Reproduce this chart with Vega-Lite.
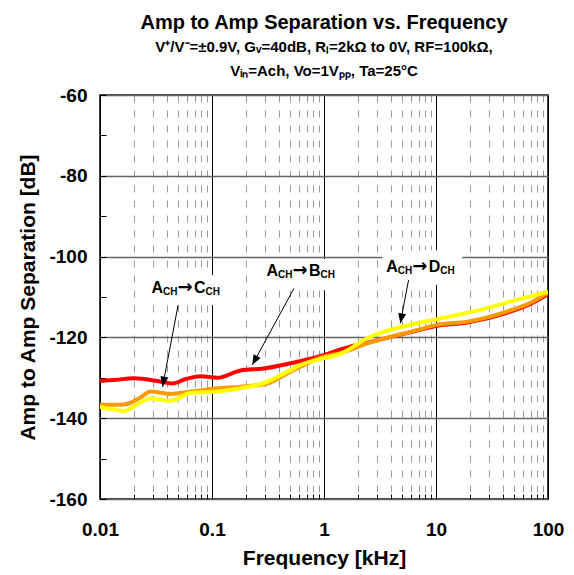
{
  "$schema": "https://vega.github.io/schema/vega-lite/v6.json",
  "width": 448,
  "height": 404,
  "autosize": {"type": "none"},
  "padding": {"left": 100, "top": 95, "right": 26, "bottom": 76},
  "background": "white",
  "config": {
    "view": {"stroke": "#000", "strokeWidth": 1.5},
    "font": "Liberation Sans"
  },
  "title": {
    "text": "Amp to Amp Separation vs. Frequency",
    "subtitle": ["V⁺/V⁻=±0.9V, Gᵥ=40dB, Rₗ=2kΩ to 0V, RF=100kΩ,", "Vᵢₙ=Ach, Vo=1Vₚₚ, Ta=25°C"],
    "font": "Liberation Sans",
    "fontSize": 20,
    "fontWeight": "bold",
    "color": "#000",
    "subtitleFont": "Liberation Sans",
    "subtitleFontSize": 15,
    "subtitleFontWeight": "bold",
    "subtitleColor": "#000",
    "subtitleLineHeight": 24,
    "subtitlePadding": 7,
    "anchor": "middle",
    "offset": 7
  },
  "datasets": {
    "curves": [
      {"s": "AB", "f": 0.01, "v": -130.8},
      {"s": "AB", "f": 0.0139, "v": -130.5},
      {"s": "AB", "f": 0.0201, "v": -130.1},
      {"s": "AB", "f": 0.0327, "v": -130.8},
      {"s": "AB", "f": 0.0444, "v": -131.4},
      {"s": "AB", "f": 0.0584, "v": -130.3},
      {"s": "AB", "f": 0.0794, "v": -129.6},
      {"s": "AB", "f": 0.112, "v": -130.0},
      {"s": "AB", "f": 0.18, "v": -128.2},
      {"s": "AB", "f": 0.289, "v": -127.7},
      {"s": "AB", "f": 0.503, "v": -126.4},
      {"s": "AB", "f": 0.99, "v": -124.4},
      {"s": "AB", "f": 1.4, "v": -123.0},
      {"s": "AB", "f": 1.72, "v": -122.3},
      {"s": "AB", "f": 2.45, "v": -121.3},
      {"s": "AB", "f": 6.8, "v": -118.3},
      {"s": "AB", "f": 10.2, "v": -117.1},
      {"s": "AB", "f": 19.0, "v": -116.3},
      {"s": "AB", "f": 43.0, "v": -113.9},
      {"s": "AB", "f": 69.0, "v": -111.8},
      {"s": "AB", "f": 100, "v": -109.3},
      {"s": "AC", "f": 0.01, "v": -136.7},
      {"s": "AC", "f": 0.0164, "v": -136.6},
      {"s": "AC", "f": 0.022, "v": -135.2},
      {"s": "AC", "f": 0.0285, "v": -133.4},
      {"s": "AC", "f": 0.0429, "v": -134.0},
      {"s": "AC", "f": 0.0647, "v": -133.4},
      {"s": "AC", "f": 0.112, "v": -132.6},
      {"s": "AC", "f": 0.18, "v": -132.2},
      {"s": "AC", "f": 0.312, "v": -131.4},
      {"s": "AC", "f": 0.503, "v": -128.5},
      {"s": "AC", "f": 0.99, "v": -124.8},
      {"s": "AC", "f": 1.4, "v": -123.9},
      {"s": "AC", "f": 2.43, "v": -121.5},
      {"s": "AC", "f": 6.76, "v": -118.2},
      {"s": "AC", "f": 10.2, "v": -116.9},
      {"s": "AC", "f": 19.0, "v": -116.1},
      {"s": "AC", "f": 42.9, "v": -113.6},
      {"s": "AC", "f": 69.2, "v": -111.5},
      {"s": "AC", "f": 100, "v": -108.9},
      {"s": "AD", "f": 0.01, "v": -137.2},
      {"s": "AD", "f": 0.0125, "v": -137.7},
      {"s": "AD", "f": 0.0164, "v": -138.2},
      {"s": "AD", "f": 0.0218, "v": -136.5},
      {"s": "AD", "f": 0.0285, "v": -135.1},
      {"s": "AD", "f": 0.0429, "v": -135.7},
      {"s": "AD", "f": 0.0647, "v": -133.7},
      {"s": "AD", "f": 0.112, "v": -133.4},
      {"s": "AD", "f": 0.18, "v": -132.6},
      {"s": "AD", "f": 0.312, "v": -131.0},
      {"s": "AD", "f": 0.503, "v": -128.1},
      {"s": "AD", "f": 0.617, "v": -126.8},
      {"s": "AD", "f": 0.99, "v": -125.2},
      {"s": "AD", "f": 1.4, "v": -124.1},
      {"s": "AD", "f": 2.43, "v": -120.2},
      {"s": "AD", "f": 6.76, "v": -116.5},
      {"s": "AD", "f": 10.2, "v": -115.5},
      {"s": "AD", "f": 24.8, "v": -113.2},
      {"s": "AD", "f": 52.6, "v": -110.7},
      {"s": "AD", "f": 100, "v": -108.7}
    ],
    "labels": [
      {"dst": "C", "f": 0.0289, "v": -109.1, "bx1": 0.0262, "bx2": 0.13, "by1": -104.6, "by2": -112.0},
      {"dst": "B", "f": 0.307, "v": -104.8, "bx1": 0.283, "bx2": 1.46, "by1": -100.6, "by2": -108.3},
      {"dst": "D", "f": 3.6, "v": -103.7, "bx1": 3.32, "bx2": 17.1, "by1": -98.4, "by2": -107.0}
    ],
    "arrows": [
      {"dst": "C", "x1": 0.0498, "y1": -112.0, "x2": 0.0362, "y2": -132.2},
      {"dst": "B", "x1": 0.538, "y1": -107.9, "x2": 0.229, "y2": -126.8},
      {"dst": "D", "x1": 5.69, "y1": -105.8, "x2": 4.8, "y2": -116.5}
    ]
  },
  "layer": [
    {
      "data": {"name": "curves"},
      "mark": {"type": "line", "strokeWidth": 4, "interpolate": "monotone", "clip": true},
      "encoding": {
        "x": {
          "field": "f", "type": "quantitative",
          "scale": {"type": "log", "domain": [0.01, 100], "nice": false},
          "axis": {
            "title": "Frequency [kHz]",
            "values": [0.01, 0.02, 0.03, 0.04, 0.05, 0.06, 0.07, 0.08, 0.09, 0.1, 0.2, 0.3, 0.4, 0.5, 0.6, 0.7, 0.8, 0.9, 1, 2, 3, 4, 5, 6, 7, 8, 9, 10, 20, 30, 40, 50, 60, 70, 80, 90, 100],
            "format": "~g",
            "labelExpr": "(datum.value == 0.01 || datum.value == 0.1 || datum.value == 1 || datum.value == 10 || datum.value == 100) ? datum.label : ''",
            "labelFont": "Liberation Sans",
            "labelFontSize": 19,
            "labelFontWeight": "bold",
            "labelColor": "#000",
            "labelOverlap": false,
            "labelFlush": false,
            "labelBound": false,
            "labelPadding": 26,
            "titleFont": "Liberation Sans",
            "titleFontSize": 21,
            "titleFontWeight": "bold",
            "titleColor": "#000",
            "titlePadding": 8,
            "domain": false,
            "ticks": true,
            "tickSize": -5,
            "tickColor": "#000",
            "tickWidth": 1,
            "grid": true,
            "gridColor": {"condition": {"test": "datum.value == 0.01 || datum.value == 0.1 || datum.value == 1 || datum.value == 10 || datum.value == 100", "value": "#000"}, "value": "#9a9a9a"},
            "gridDash": {"condition": {"test": "datum.value == 0.01 || datum.value == 0.1 || datum.value == 1 || datum.value == 10 || datum.value == 100", "value": []}, "value": [7, 8]},
            "gridWidth": 1
          }
        },
        "y": {
          "field": "v", "type": "quantitative",
          "scale": {"domain": [-160, -60], "nice": false},
          "axis": {
            "title": "Amp to Amp Separation [dB]",
            "values": [-60, -70, -80, -90, -100, -110, -120, -130, -140, -150, -160],
            "labelExpr": "datum.value % 20 == 0 ? '' + datum.value : ''",
            "labelFont": "Liberation Sans",
            "labelFontSize": 19,
            "labelFontWeight": "bold",
            "labelColor": "#000",
            "labelOverlap": false,
            "labelPadding": 19,
            "titleFont": "Liberation Sans",
            "titleFontSize": 21,
            "titleFontWeight": "bold",
            "titleColor": "#000",
            "titlePadding": 10,
            "domain": false,
            "ticks": true,
            "tickSize": -6,
            "tickColor": "#000",
            "tickWidth": 1,
            "grid": true,
            "gridColor": "#666",
            "gridWidth": 1.5,
            "gridOpacity": {"condition": {"test": "datum.value % 20 != 0", "value": 0}, "value": 1}
          }
        },
        "color": {
          "field": "s", "type": "nominal",
          "scale": {"domain": ["AB", "AC", "AD"], "range": ["#ff0000", "#ff9900", "#ffff00"]},
          "legend": null
        }
      }
    },
    {
      "data": {"name": "labels"},
      "mark": {"type": "rect", "color": "white"},
      "encoding": {
        "x": {"field": "bx1", "type": "quantitative", "scale": {"type": "log", "domain": [0.01, 100], "nice": false}},
        "x2": {"field": "bx2"},
        "y": {"field": "by1", "type": "quantitative", "scale": {"domain": [-160, -60], "nice": false}},
        "y2": {"field": "by2"}
      }
    },
    {
      "data": {"name": "arrows"},
      "mark": {"type": "rule", "color": "#000", "strokeWidth": 1},
      "encoding": {
        "x": {"field": "x1", "type": "quantitative", "scale": {"type": "log", "domain": [0.01, 100], "nice": false}},
        "x2": {"field": "x2"},
        "y": {"field": "y1", "type": "quantitative", "scale": {"domain": [-160, -60], "nice": false}},
        "y2": {"field": "y2"}
      }
    },
    {
      "data": {"name": "arrows"},
      "transform": [{"filter": "datum.dst == 'C'"}],
      "mark": {"type": "point", "shape": "M0,0L-0.4,-1L0.4,-1Z", "filled": true, "color": "#000", "opacity": 1, "size": 400, "angle": 10.8},
      "encoding": {
        "x": {"field": "x2", "type": "quantitative", "scale": {"type": "log", "domain": [0.01, 100], "nice": false}},
        "y": {"field": "y2", "type": "quantitative", "scale": {"domain": [-160, -60], "nice": false}}
      }
    },
    {
      "data": {"name": "arrows"},
      "transform": [{"filter": "datum.dst == 'B'"}],
      "mark": {"type": "point", "shape": "M0,0L-0.4,-1L0.4,-1Z", "filled": true, "color": "#000", "opacity": 1, "size": 400, "angle": 28.5},
      "encoding": {
        "x": {"field": "x2", "type": "quantitative", "scale": {"type": "log", "domain": [0.01, 100], "nice": false}},
        "y": {"field": "y2", "type": "quantitative", "scale": {"domain": [-160, -60], "nice": false}}
      }
    },
    {
      "data": {"name": "arrows"},
      "transform": [{"filter": "datum.dst == 'D'"}],
      "mark": {"type": "point", "shape": "M0,0L-0.4,-1L0.4,-1Z", "filled": true, "color": "#000", "opacity": 1, "size": 400, "angle": 10.9},
      "encoding": {
        "x": {"field": "x2", "type": "quantitative", "scale": {"type": "log", "domain": [0.01, 100], "nice": false}},
        "y": {"field": "y2", "type": "quantitative", "scale": {"domain": [-160, -60], "nice": false}}
      }
    },
    {
      "data": {"name": "labels"},
      "mark": {"type": "text", "text": "A", "align": "left", "baseline": "alphabetic", "dx": 0, "fontSize": 16, "fontWeight": "bold", "font": "Liberation Sans", "color": "#000"},
      "encoding": {
        "x": {"field": "f", "type": "quantitative", "scale": {"type": "log", "domain": [0.01, 100], "nice": false}},
        "y": {"field": "v", "type": "quantitative", "scale": {"domain": [-160, -60], "nice": false}}
      }
    },
    {
      "data": {"name": "labels"},
      "mark": {"type": "text", "text": "CH", "align": "left", "baseline": "alphabetic", "dx": 11.5, "dy": 2, "fontSize": 10, "fontWeight": "bold", "font": "Liberation Sans", "color": "#000"},
      "encoding": {
        "x": {"field": "f", "type": "quantitative", "scale": {"type": "log", "domain": [0.01, 100], "nice": false}},
        "y": {"field": "v", "type": "quantitative", "scale": {"domain": [-160, -60], "nice": false}}
      }
    },
    {
      "data": {"name": "labels"},
      "mark": {"type": "text", "text": "→", "align": "left", "baseline": "alphabetic", "dx": 26, "fontSize": 18, "fontWeight": "bold", "font": "DejaVu Sans", "color": "#000"},
      "encoding": {
        "x": {"field": "f", "type": "quantitative", "scale": {"type": "log", "domain": [0.01, 100], "nice": false}},
        "y": {"field": "v", "type": "quantitative", "scale": {"domain": [-160, -60], "nice": false}}
      }
    },
    {
      "data": {"name": "labels"},
      "mark": {"type": "text", "align": "left", "baseline": "alphabetic", "dx": 42.5, "fontSize": 16, "fontWeight": "bold", "font": "Liberation Sans", "color": "#000"},
      "encoding": {
        "x": {"field": "f", "type": "quantitative", "scale": {"type": "log", "domain": [0.01, 100], "nice": false}},
        "y": {"field": "v", "type": "quantitative", "scale": {"domain": [-160, -60], "nice": false}},
        "text": {"field": "dst"}
      }
    },
    {
      "data": {"name": "labels"},
      "mark": {"type": "text", "text": "CH", "align": "left", "baseline": "alphabetic", "dx": 54, "dy": 2, "fontSize": 10, "fontWeight": "bold", "font": "Liberation Sans", "color": "#000"},
      "encoding": {
        "x": {"field": "f", "type": "quantitative", "scale": {"type": "log", "domain": [0.01, 100], "nice": false}},
        "y": {"field": "v", "type": "quantitative", "scale": {"domain": [-160, -60], "nice": false}}
      }
    }
  ]
}
